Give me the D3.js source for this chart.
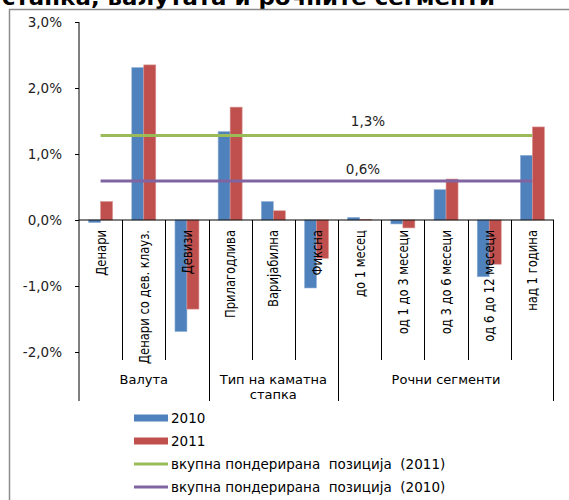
<!DOCTYPE html>
<html><head><meta charset="utf-8">
<script src="https://cdn.jsdelivr.net/npm/d3@7"></script>
<style>body{margin:0;background:#fff;}svg{display:block;}</style>
</head><body>
<svg id="c" width="569" height="500"></svg>
<script>
const categories = ["Денари","Денари со дев. клауз.","Девизи","Прилагодлива","Варијабилна","Фиксна","до 1 месец","од 1 до 3 месеци","од 3 до 6 месеци","од 6 до 12 месеци","над 1 година"];
const groups = [{name:["Валута"], from:0, to:2},{name:["Тип на каматна","стапка"], from:3, to:5},{name:["Рочни сегменти"], from:6, to:10}];
const series = ["2010","2011"];
const values2010 = [-0.04, 2.31, -1.69, 1.34, 0.28, -1.03, 0.04, -0.06, 0.46, -0.86, 0.98];
const values2011 = [0.28, 2.35, -1.35, 1.71, 0.14, -0.58, 0.01, -0.12, 0.62, -0.67, 1.41];
const avg2011 = 1.28, avg2010 = 0.59;
const avgLabels = ["1,3%","0,6%"];
const yTicks = [3,2,1,0,-1,-2];
const legendLabels = ["2010","2011","вкупна пондерирана  позиција  (2011)","вкупна пондерирана  позиција  (2010)"];
const colors = {b:"#4F81BD", r:"#C0504D", g:"#9BBB59", p:"#8064A2"};

const svg = d3.select("#c");
// title (cut off at top, as in the reference)
svg.append("text").attr("x",2).attr("y",5).attr("font-family","DejaVu Sans").attr("font-weight","bold")
  .attr("font-size",21).attr("textLength",493).attr("lengthAdjust","spacingAndGlyphs").attr("fill","#000")
  .text("стапка, валутата и рочните сегменти");
// chart border
svg.append("path").attr("d","M9.5,500 V9.5 H569").attr("fill","none").attr("stroke","#8c8c8c").attr("stroke-width",1.5);

const x = d3.scaleBand().domain(categories).range([79,554]).padding(0);
const x1 = d3.scaleBand().domain(series).range([0,x.bandwidth()]).paddingInner(0).paddingOuter(0.8);
const y = d3.scaleLinear().domain([-2,3]).range([352,22]);
const y0 = y(0);

// bars
const data = categories.map((c,i)=>({c, v:[values2010[i], values2011[i]]}));
const g = svg.append("g");
data.forEach(d=>{
  d.v.forEach((v,j)=>{
    g.append("rect").attr("x",x(d.c)+x1(series[j])).attr("width",x1.bandwidth())
      .attr("y",Math.min(y(v),y0)).attr("height",Math.abs(y(v)-y0))
      .attr("fill",j?colors.r:colors.b).attr("stroke",j?"#d99694":"#95b3d7").attr("stroke-width",0.6);
  });
});

// average lines
const cx = c=>x(c)+x.bandwidth()/2;
[[avg2011,colors.g,avgLabels[0],-10],[avg2010,colors.p,avgLabels[1],-7]].forEach(([v,col,lab,dy],k)=>{
  svg.append("line").attr("x1",cx(categories[0])).attr("x2",cx(categories[10])).attr("y1",y(v)).attr("y2",y(v))
    .attr("stroke",col).attr("stroke-width",3);
  svg.append("text").attr("x",k?363:368).attr("y",y(v)+dy).attr("text-anchor","middle")
    .attr("font-family","DejaVu Sans").attr("font-size",13.5).attr("fill","#222").text(lab);
});

// y axis
const yAxis = d3.axisLeft(y).tickValues(yTicks).tickSize(4).tickFormat(d=>d3.format(".1f")(d).replace(".",",").replace("−","-")+"%");
const ya = svg.append("g").attr("transform","translate(79,0)").call(yAxis);
ya.select(".domain").remove();
ya.selectAll("text").attr("font-family","DejaVu Sans").attr("font-size",13.5).attr("fill","#222").attr("dx",-10);
ya.selectAll("line").attr("stroke","#000");
svg.append("line").attr("x1",79).attr("x2",79).attr("y1",22).attr("y2",401).attr("stroke","#000");

// zero line
svg.append("line").attr("x1",79).attr("x2",554).attr("y1",y0).attr("y2",y0).attr("stroke","#000");
// dividers
const groupBounds = new Set();
groups.forEach(gr=>{groupBounds.add(gr.from); groupBounds.add(gr.to+1);});
categories.forEach((c,i)=>{
  if(i===0) return;
  const xx = Math.round(x(c))+0.5;
  svg.append("line").attr("x1",xx).attr("x2",xx).attr("y1",y0).attr("y2",groupBounds.has(i)?401:360).attr("stroke","#000");
});
svg.append("line").attr("x1",553.5).attr("x2",553.5).attr("y1",y0).attr("y2",401).attr("stroke","#000");

// category labels
categories.forEach(c=>{
  svg.append("text").attr("transform",`translate(${cx(c)+5},${y0+10}) rotate(-90) scale(0.92,1)`).attr("text-anchor","end")
    .attr("font-family","'DejaVu Sans Condensed','Liberation Sans Narrow',sans-serif").attr("font-stretch","condensed")
    .attr("font-size",14).attr("fill","#000").text(c);
});
// group labels
groups.forEach(gr=>{
  const mx = (x(categories[gr.from]) + x(categories[gr.to]) + x.bandwidth())/2;
  gr.name.forEach((n,k)=>{
    svg.append("text").attr("x",mx).attr("y",384+k*15).attr("text-anchor","middle")
      .attr("font-family","DejaVu Sans").attr("font-size",13).attr("fill","#000").text(n);
  });
});

// legend
const lg = svg.append("g").attr("transform","translate(134,0)");
const ly = [418,441,464,487];
legendLabels.forEach((t,i)=>{
  if(i<2) lg.append("rect").attr("x",0).attr("y",ly[i]-3.5).attr("width",34).attr("height",7).attr("fill",i?colors.r:colors.b);
  else lg.append("line").attr("x1",0).attr("x2",34).attr("y1",ly[i]).attr("y2",ly[i]).attr("stroke",i===2?colors.g:colors.p).attr("stroke-width",3);
  lg.append("text").attr("x",37).attr("y",ly[i]+5).attr("font-family","DejaVu Sans").attr("font-size",13.5)
    .attr("fill","#000").attr("style","white-space:pre").text(t);
});
</script>
</body></html>
